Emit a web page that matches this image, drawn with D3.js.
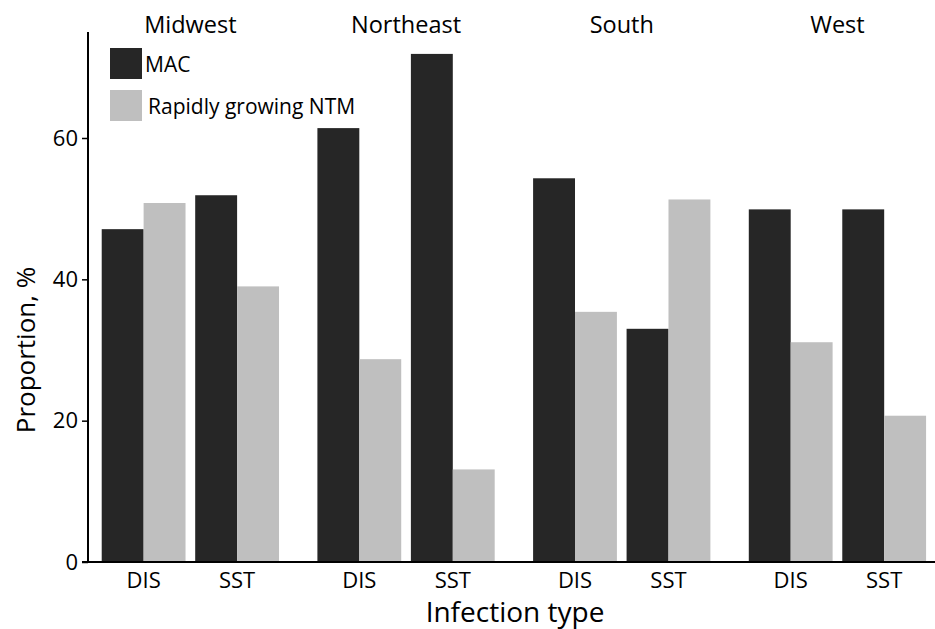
<!DOCTYPE html>
<html>
<head>
<meta charset="utf-8">
<script src="https://cdn.jsdelivr.net/npm/d3@7"></script>
<style>
  html, body { margin: 0; padding: 0; background: #fff; }
  svg { display: block; }
  text { font-family: "Open Sans", "Noto Sans", sans-serif; fill: #000; }
</style>
</head>
<body>
<svg id="chart" width="935" height="629"></svg>
<script>
// ---- Data ----
const regions = ["Midwest", "Northeast", "South", "West"];
const infectionTypes = ["DIS", "SST"];
const seriesNames = ["MAC", "Rapidly growing NTM"];
const seriesColors = ["#262626", "#bfbfbf"];
// values per region, in order DIS, SST
const macValues = {
  Midwest:   [47.1, 51.9],
  Northeast: [61.4, 71.9],
  South:     [54.3, 33.0],
  West:      [49.9, 49.9]
};
const ntmValues = {
  Midwest:   [50.8, 39.0],
  Northeast: [28.7, 13.1],
  South:     [35.4, 51.3],
  West:      [31.1, 20.7]
};
const yTicks = [0, 20, 40, 60];

// ---- Build table ----
const rows = [];
regions.forEach(r => {
  infectionTypes.forEach((t, i) => {
    rows.push({ region: r, type: t, series: seriesNames[0], value: macValues[r][i] });
    rows.push({ region: r, type: t, series: seriesNames[1], value: ntmValues[r][i] });
  });
});

const svg = d3.select("#chart");

const x0 = d3.scaleBand().domain(regions).range([82.3, 945.5])
  .paddingInner(0.178).paddingOuter(0.09);
const x1 = d3.scaleBand().domain(infectionTypes).range([0, x0.bandwidth()])
  .paddingInner(0.1035).paddingOuter(0);
const x2 = d3.scaleBand().domain(seriesNames).range([0, x1.bandwidth()]).padding(0);
const y = d3.scaleLinear().domain([0, 75]).range([562, 32]);
const color = d3.scaleOrdinal().domain(seriesNames).range(seriesColors);

// Bars
svg.append("g").selectAll("rect").data(rows).join("rect")
  .attr("x", d => x0(d.region) + x1(d.type) + x2(d.series))
  .attr("width", x2.bandwidth())
  .attr("y", d => y(d.value))
  .attr("height", d => y(0) - y(d.value))
  .attr("fill", d => color(d.series));

// Y axis
const yAxis = svg.append("g").attr("transform", "translate(88,0)")
  .call(d3.axisLeft(y).tickValues(yTicks).tickSize(6).tickPadding(4));
yAxis.select(".domain").attr("d", `M0,${y(75)}V${y(0)}`).attr("stroke", "#000").attr("stroke-width", 2);
yAxis.selectAll(".tick line").attr("stroke", "#000").attr("stroke-width", 1.5);
yAxis.selectAll(".tick text").style("font-size", "22px").attr("fill", "#000")
  .style("font-family", "'Open Sans', sans-serif");

// X axis line
svg.append("line").attr("x1", 82).attr("x2", 935).attr("y1", y(0)).attr("y2", y(0))
  .attr("stroke", "#000").attr("stroke-width", 2);

// Infection type labels
const typeLabels = [];
regions.forEach(r => infectionTypes.forEach(t => typeLabels.push({ region: r, type: t })));
svg.append("g").selectAll("text").data(typeLabels).join("text")
  .attr("x", d => x0(d.region) + x1(d.type) + x1.bandwidth() / 2)
  .attr("y", 588)
  .attr("text-anchor", "middle")
  .style("font-size", "22px")
  .text(d => d.type);

// Region labels
svg.append("g").selectAll("text").data(regions).join("text")
  .attr("x", d => x0(d) + x0.bandwidth() / 2)
  .attr("y", 33)
  .attr("text-anchor", "middle")
  .style("font-size", "23.5px")
  .text(d => d);

// Axis titles
svg.append("text").attr("x", 515).attr("y", 622).attr("text-anchor", "middle")
  .style("font-size", "28px").text("Infection type");
svg.append("text").attr("transform", "translate(35,350) rotate(-90)")
  .attr("text-anchor", "middle").style("font-size", "26px").text("Proportion, %");

// Legend
const legend = svg.append("g");
seriesNames.forEach((s, i) => {
  const g = legend.append("g").attr("transform", `translate(110,${48 + i * 42})`);
  g.append("rect").attr("width", 32).attr("height", 31).attr("fill", color(s));
  g.append("text").attr("x", i === 0 ? 35 : 38).attr("y", 24).style("font-size", "21px").text(s);
});
</script>
</body>
</html>
